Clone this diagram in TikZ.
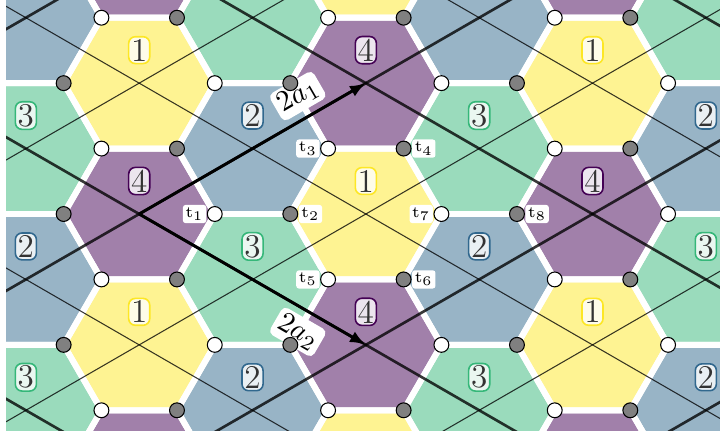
\documentclass[tikz,border=0pt]{standalone}
\usepackage{tikz}
\usetikzlibrary{arrows.meta,positioning}

\definecolor{vpurple}{HTML}{440154}
\definecolor{vblue}{HTML}{31688E}
\definecolor{vgreen}{HTML}{35B779}
\definecolor{vyellow}{HTML}{FDE725}
\colorlet{hexc0}{vpurple}
\colorlet{hexc1}{vblue}
\colorlet{hexc2}{vgreen}
\colorlet{hexc3}{vyellow}

\tikzset{
  hexedge/.style={draw=white, line width=2.25pt},
  hexnum/.style={draw=#1, fill=white, fill opacity=0.8, text opacity=1, text=black!80,
    rounded corners=2.5pt, inner sep=0.9pt, line width=0.6pt, font=\fontsize{12.5}{14}\selectfont},
  latline/.style={line width=#1, black, opacity=0.78},
  wsite/.style={circle, draw=black, fill=white, line width=0.4pt, minimum size=5.6pt, inner sep=0pt},
  gsite/.style={wsite, fill=black!50},
  tlab/.style={fill=white, rounded corners=1pt, inner sep=1pt, font=\fontsize{6.5}{7}\selectfont},
  vec/.style={-{Latex[length=6pt,width=4.5pt]}, line width=1.1pt},
  veclab/.style={fill=white, rounded corners=2pt, inner sep=1.5pt, font=\fontsize{11}{13}\selectfont}
}

\begin{document}
\begin{tikzpicture}
    \useasboundingbox (-1.8425,-2.912) rectangle (7.6876,2.8326);

    \begin{scope}
        \clip (-1.763,-2.859) rectangle (7.6876,2.8326);

        % hexagons, colour from (i mod 2, j mod 2)
        \foreach \i in {-3,...,5}{
            \foreach \j in {-3,...,5}{
                \pgfmathtruncatemacro\k{mod(\i+10,2)+2*mod(\j+10,2)}
                \coordinate (h-\i-\j) at ({1.5*(\i+\j)},{0.866*(\i-\j)});
                \fill[hexc\k!50, shift={(h-\i-\j)}] (0:1) -- (60:1) -- (120:1) -- (180:1) -- (240:1) -- (300:1) -- cycle;
            }
        }
        \foreach \i in {-3,...,5}
            \foreach \j in {-3,...,5}
                \draw[hexedge, shift={(h-\i-\j)}] (0:1) -- (60:1) -- (120:1) -- (180:1) -- (240:1) -- (300:1) -- cycle;

        % lattice lines, thick through the 4's
        \foreach \n in {-3,...,5}{
            \pgfmathsetmacro\lw{mod(\n+10,2)==0 ? 1.0 : 0.4}
            \draw[latline=\lw pt] ({1.5*\n-15},{-0.866*\n-8.66}) -- ({1.5*\n+15},{-0.866*\n+8.66});
            \draw[latline=\lw pt] ({1.5*\n-15},{0.866*\n+8.66}) -- ({1.5*\n+15},{0.866*\n-8.66});
        }

        \draw[vec] (h-0-0) -- (h-2-0) node[veclab, pos=0.75, sloped, above=2.2pt] (la1) {$2a_1$};
        \draw[vec] (h-0-0) -- (h-0-2) node[veclab, pos=0.75, sloped, below=2.2pt] (la2) {$2a_2$};

        % labels and sites, only the visible ones
        \foreach \i in {-3,...,5}{
            \foreach \j in {-3,...,5}{
                \pgfmathtruncatemacro\k{mod(\i+10,2)+2*mod(\j+10,2)}
                \pgfmathtruncatemacro\num{{4,2,3,1}[\k]}
                \pgfmathtruncatemacro\s{\i+\j}
                \pgfmathtruncatemacro\d{\i-\j}
                \ifnum\d>-4 \ifnum\d<4
                    \ifnum\s>-2 \ifnum\s<6 \ifnum\d<3
                        \node[hexnum=hexc\k] (n-\i-\j) at ({1.5*\s},{0.866*\d+0.437}) {\num};
                    \fi\fi\fi
                    \ifnum\s>-2 \ifnum\s<5
                        \node[wsite] (w-\i-\j) at ({1.5*\s+1},{0.866*\d}) {};
                    \fi\fi
                    \ifnum\s>-1 \ifnum\s<6
                        \node[gsite] (g-\i-\j) at ({1.5*\s-1},{0.866*\d}) {};
                    \fi\fi
                \fi\fi
            }
        }
    \end{scope}

    \node[tlab, left=0pt of w-0-0] (t1) {$\mathrm{t}_1$};
    \node[tlab, right=0pt of g-1-1] (t2) {$\mathrm{t}_2$};
    \node[tlab, left=0pt of w-1-0] (t3) {$\mathrm{t}_3$};
    \node[tlab, right=0pt of g-2-1] (t4) {$\mathrm{t}_4$};
    \node[tlab, left=0pt of w-0-1] (t5) {$\mathrm{t}_5$};
    \node[tlab, right=0pt of g-1-2] (t6) {$\mathrm{t}_6$};
    \node[tlab, left=0pt of w-1-1] (t7) {$\mathrm{t}_7$};
    \node[tlab, right=0pt of g-2-2] (t8) {$\mathrm{t}_8$};
\end{tikzpicture}
\end{document}
